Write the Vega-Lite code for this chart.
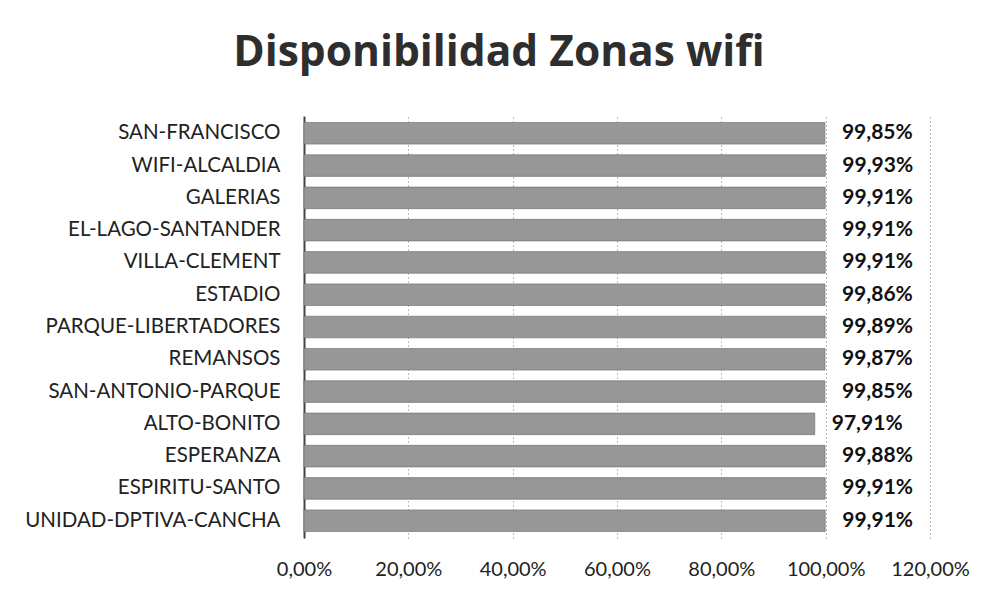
{
  "$schema": "https://vega.github.io/schema/vega-lite/v6.json",
  "width": 626,
  "height": 422,
  "autosize": {"type": "none"},
  "padding": {"left": 304, "top": 116, "right": 61, "bottom": 59},
  "background": "#ffffff",
  "title": {
    "text": "Disponibilidad Zonas wifi",
    "font": "Open Sans",
    "fontSize": 42.5,
    "fontWeight": "bold",
    "color": "#2e2e2e",
    "anchor": "middle",
    "frame": "group",
    "baseline": "alphabetic",
    "offset": 8,
    "dx": -118
  },
  "config": {
    "locale": {"number": {"decimal": ",", "thousands": ".", "grouping": [3], "currency": ["", " €"]}},
    "view": {"stroke": null},
    "font": "Lato"
  },
  "data": {
    "values": [
      {"zona": "SAN-FRANCISCO", "disp": 0.9985},
      {"zona": "WIFI-ALCALDIA", "disp": 0.9993},
      {"zona": "GALERIAS", "disp": 0.9991},
      {"zona": "EL-LAGO-SANTANDER", "disp": 0.9991},
      {"zona": "VILLA-CLEMENT", "disp": 0.9991},
      {"zona": "ESTADIO", "disp": 0.9986},
      {"zona": "PARQUE-LIBERTADORES", "disp": 0.9989},
      {"zona": "REMANSOS", "disp": 0.9987},
      {"zona": "SAN-ANTONIO-PARQUE", "disp": 0.9985},
      {"zona": "ALTO-BONITO", "disp": 0.9791},
      {"zona": "ESPERANZA", "disp": 0.9988},
      {"zona": "ESPIRITU-SANTO", "disp": 0.9991},
      {"zona": "UNIDAD-DPTIVA-CANCHA", "disp": 0.9991}
    ]
  },
  "encoding": {
    "y": {
      "field": "zona",
      "type": "nominal",
      "sort": null,
      "scale": {"paddingInner": 0.33, "paddingOuter": 0.2},
      "axis": {
        "title": null,
        "ticks": false,
        "domain": true,
        "domainColor": "#444444",
        "domainWidth": 2,
        "labelFont": "Lato",
        "labelFontSize": 20.5,
        "labelColor": "#222222",
        "labelPadding": 24,
        "labelLimit": 400
      }
    },
    "x": {
      "field": "disp",
      "type": "quantitative",
      "scale": {"domain": [0, 1.2], "nice": false},
      "axis": {
        "title": null,
        "values": [0, 0.2, 0.4, 0.6, 0.8, 1.0, 1.2],
        "format": ".2%",
        "ticks": false,
        "domain": false,
        "grid": true,
        "gridColor": "#777777",
        "gridDash": [1, 3],
        "gridWidth": 1,
        "labelFont": "Lato",
        "labelFontSize": 20,
        "labelColor": "#222222",
        "labelPadding": 21,
        "labelFlush": false
      }
    }
  },
  "layer": [
    {
      "mark": {"type": "bar", "color": "#979797", "stroke": "#6a6a6a", "strokeWidth": 0.6}
    },
    {
      "mark": {"type": "text", "align": "left", "baseline": "middle", "dx": 17, "font": "Lato", "fontSize": 21, "fontWeight": "bold", "color": "#111111"},
      "encoding": {
        "text": {"field": "disp", "type": "quantitative", "format": ".2%"}
      }
    }
  ]
}
